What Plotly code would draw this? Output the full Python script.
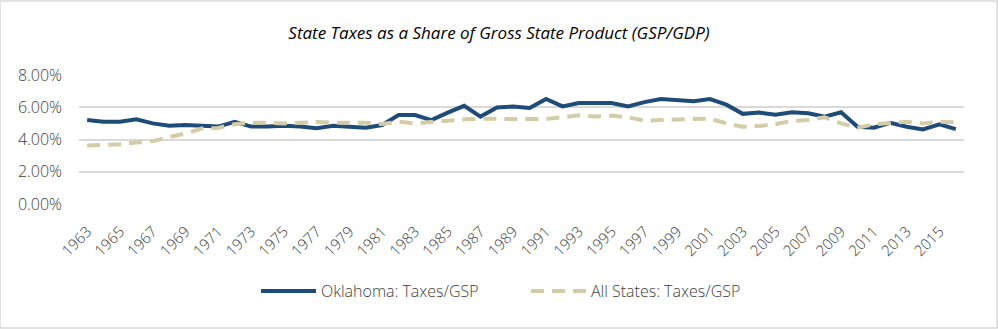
import plotly.graph_objects as go

years = [str(y) for y in range(1963, 2017)]
oklahoma = [5.21, 5.10, 5.10, 5.25, 5.00, 4.85, 4.90, 4.85, 4.80, 5.10,
            4.80, 4.80, 4.85, 4.80, 4.70, 4.85, 4.80, 4.73, 4.90, 5.52,
            5.52, 5.20, 5.67, 6.09, 5.42, 5.99, 6.05, 5.95, 6.51, 6.05,
            6.26, 6.26, 6.26, 6.05, 6.32, 6.51, 6.47, 6.37, 6.51, 6.16,
            5.59, 5.67, 5.53, 5.69, 5.63, 5.42, 5.69, 4.79, 4.73, 5.04,
            4.79, 4.62, 4.94, 4.64]
all_states = [3.63, 3.68, 3.70, 3.82, 3.90, 4.15, 4.37, 4.68, 4.72, 4.95,
              5.04, 5.04, 5.00, 5.04, 5.08, 5.04, 5.04, 5.04, 4.96, 5.10,
              5.00, 5.10, 5.20, 5.25, 5.29, 5.25, 5.27, 5.27, 5.27, 5.38,
              5.50, 5.42, 5.48, 5.38, 5.17, 5.21, 5.21, 5.27, 5.29, 5.00,
              4.79, 4.83, 4.96, 5.15, 5.21, 5.38, 5.00, 4.73, 4.94, 5.04,
              5.10, 5.00, 5.10, 5.06]
tick_years = [str(y) for y in range(1963, 2017, 2)]
y_ticks = [0, 0.02, 0.04, 0.06, 0.08]

fig = go.Figure()
fig.add_trace(go.Scatter(
    x=years, y=[v / 100 for v in oklahoma], mode="lines",
    name="Oklahoma: Taxes/GSP",
    line=dict(color="#1F4B79", width=4)))
fig.add_trace(go.Scatter(
    x=years, y=[v / 100 for v in all_states], mode="lines",
    name="All States: Taxes/GSP",
    line=dict(color="#D2CCA8", width=4, dash="13px,8px")))

fig.update_layout(
    width=998, height=329,
    margin=dict(l=79, r=34, t=75, b=125),
    paper_bgcolor="white", plot_bgcolor="white",
    title=dict(text="State Taxes as a Share of Gross State Product (GSP/GDP)",
               x=0.5, xanchor="center", y=1 - 33 / 329, yanchor="middle",
               font=dict(family="Open Sans, sans-serif",
                         size=17, color="#000000", style="italic")),
    xaxis=dict(type="category", tickmode="array", tickvals=tick_years,
               ticktext=tick_years, tickangle=-45, showgrid=False,
               range=[-0.5, len(years) - 0.5],
               showline=False, ticks="", ticklabelstandoff=15,
               tickfont=dict(family="Open Sans", size=15, color="#404040", weight=300)),
    yaxis=dict(range=[0, 0.08], tickvals=y_ticks, tickformat=".2%",
               showgrid=True, gridcolor="#D9D9D9", gridwidth=1.5,
               zeroline=False, showline=False, ticks="", ticklabelstandoff=16,
               tickfont=dict(family="Open Sans", size=16, color="#404040", weight=300)),
    legend=dict(orientation="h", x=0.2, xanchor="left",
                yref="container", y=1 - 291 / 329, yanchor="middle",
                font=dict(family="Open Sans", size=16, color="#404040", weight=300),
                itemwidth=55, entrywidth=200, tracegroupgap=0),
    showlegend=True,
)
fig.add_shape(type="rect", xref="paper", yref="paper",
              x0=-79 / 885, x1=1 + 33 / 885, y0=-124 / 129, y1=1 + 74 / 129,
              line=dict(color="#D9D9D9", width=1.5), fillcolor="rgba(0,0,0,0)")

fig.write_html("out.html")
